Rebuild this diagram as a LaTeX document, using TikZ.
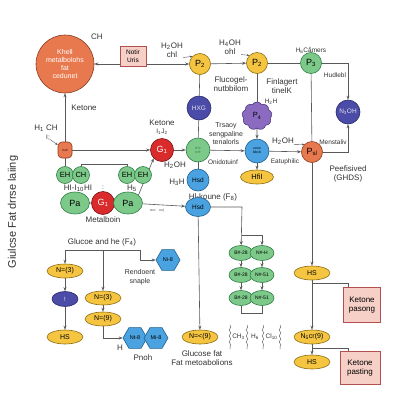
\documentclass[tikz,border=0pt]{standalone}
\usepackage{fontspec}
\setmainfont{Liberation Sans}
\usetikzlibrary{arrows.meta,shapes.geometric,shapes.symbols,decorations.pathmorphing}
\pgfdeclarelayer{back}
\pgfdeclarelayer{bg}
\pgfsetlayers{back,bg,main}
\definecolor{orc}{HTML}{E8794F}\definecolor{ord}{HTML}{8B3A1E}
\definecolor{yec}{HTML}{F5C542}\definecolor{yed}{HTML}{8A6D10}
\definecolor{grc}{HTML}{7CC98A}\definecolor{grd}{HTML}{2E7D45}
\definecolor{nac}{HTML}{4B4BA8}\definecolor{nad}{HTML}{2A2A70}
\definecolor{blc}{HTML}{4AA3E0}\definecolor{bld}{HTML}{1F5F90}
\definecolor{rec}{HTML}{D92B2B}\definecolor{red2}{HTML}{7A1010}
\definecolor{puc}{HTML}{8A6BC0}\definecolor{pud}{HTML}{4F3A80}
\definecolor{pkc}{HTML}{F6D0C6}\definecolor{pkd}{HTML}{B05050}
\tikzset{
 ln/.style={draw=black!65, line width=0.6pt},
 ar/.style={ln, -{Stealth[length=4pt,width=3pt]}},
 dar/.style={ln, {Stealth[length=4pt,width=3pt]}-{Stealth[length=4pt,width=3pt]}},
 sar/.style={draw=black!70, line width=0.4pt, -{Stealth[length=2.5pt,width=2pt]}},
 circ/.style={circle, line width=0.6pt, inner sep=0pt, align=center},
 yel/.style={circ, fill=yec, draw=yed, minimum size=21pt, font=\fontsize{9}{10}\selectfont},
 grn/.style={circ, fill=grc, draw=grd, minimum size=21pt, font=\fontsize{9}{10}\selectfont},
 orn/.style={circ, fill=orc, draw=ord, minimum size=21pt, font=\fontsize{9}{10}\selectfont},
 nav/.style={circ, fill=nac, draw=nad, minimum size=24pt, text=white!85!nac, font=\fontsize{6.5}{7}\selectfont},
 blu/.style={circ, fill=blc, draw=bld, minimum size=22pt, font=\fontsize{6.5}{7}\selectfont},
 rdc/.style={circ, fill=rec, draw=red2, minimum size=23pt, text=white, font=\fontsize{9}{10}\selectfont},
 gs/.style={circ, fill=grc, draw=grd, minimum size=17pt, font=\fontsize{7.5}{8}\selectfont},
 gpa/.style={ellipse, fill=grc, draw=grd, line width=0.6pt, inner sep=0pt, minimum width=29pt, minimum height=22pt, font=\fontsize{9}{10}\selectfont},
 gg/.style={ellipse, fill=grc, draw=grd, line width=0.6pt, inner sep=0pt, minimum width=24pt, minimum height=15pt, font=\fontsize{5}{5}\selectfont},
 yell/.style={ellipse, fill=yec, draw=yed, line width=0.6pt, inner sep=0pt, minimum width=36pt, minimum height=14pt, font=\fontsize{7}{8}\selectfont},
 hexa/.style={regular polygon, regular polygon sides=6, fill=blc, draw=bld, line width=0.6pt, inner sep=0pt, minimum size=24pt, font=\fontsize{5.5}{6}\selectfont},
 pbox/.style={rectangle, fill=pkc, draw=pkd, line width=0.6pt, align=center, inner sep=1pt},
 lab/.style={font=\fontsize{8}{9}\selectfont, text=black!80, align=center, inner sep=0pt},
 slab/.style={font=\fontsize{6.5}{7.5}\selectfont, text=black!80, align=center, inner sep=0pt},
 wav/.style={draw=black!60, line width=0.5pt, decorate, decoration={snake, amplitude=0.8pt, segment length=6pt}}
}
\begin{document}
\begin{tikzpicture}[x=1pt,y=-1pt]
\useasboundingbox (0,0) rectangle (400,400);
\begin{pgfonlayer}{back}
\fill[white] (0,0) rectangle (400,400);
\end{pgfonlayer}
% top row
\node[circ, fill=orc, draw=ord, minimum size=58pt, text=white, font=\fontsize{7}{8}\selectfont] (big) at (65,64) {Khell\\metalbolohs\\fat\\cedunet};
\node[lab] (ch) at (97,37) {CH};
\node[pbox, minimum width=26pt, minimum height=20pt, font=\fontsize{6.5}{7.5}\selectfont] (notir) at (133,56) {Notir\\Uris};
\node[yel] (p2a) at (200,64) {P\textsubscript{2}};
\node[lab] (h2oha) at (172,50) {H\textsubscript{2}OH\\chl};
\node[yel] (p2b) at (257,63) {P\textsubscript{2}};
\node[lab] (h4oh) at (230,47) {H\textsubscript{4}OH\\ohl};
\node[grn] (p3) at (311,63) {P\textsubscript{3}};
\node[slab] (camers) at (311,50) {H\textsubscript{6}Cåmers};
\node[nav] (n3oh) at (348,112) {N\textsubscript{3}OH};
\node[slab] (hud) at (335,75) {Hudlebl};
\node[orn] (psl) at (312,152) {P\textsubscript{sl}};
\node[slab] (menst) at (333,142) {Menstaliv};
\node[lab] (h2ohc) at (283,141) {H\textsubscript{2}OH};
\node[slab] (eatu) at (285,162) {Eatuphilic};
\node[lab] (peef) at (348,174) {Peefisived\\(GHDS)};
\node[yell] (hs1) at (312,273) {HS};
% purple column
\node[cloud, cloud puffs=9, cloud puff arc=120, fill=puc, draw=pud, line width=0.6pt, minimum width=30pt, minimum height=28pt, inner sep=0pt, font=\fontsize{7.5}{8}\selectfont] (p4) at (257,116) {P\textsubscript{4}};
\node[slab] (h2h) at (271,102) {H\textsubscript{2}H};
\node[blu, minimum size=24pt, font=\fontsize{3.5}{4}\selectfont] (bs) at (257,151) {sooo\\bbcb};
\node[yell, minimum width=33pt, font=\fontsize{7.5}{8}\selectfont] (hfi) at (257,177) {HfiI};
\node[lab] (fluc) at (231,84) {Flucogel-\\nutbbilom};
\node[lab] (finl) at (282,86) {Finlagert\\tinelK};
\node[lab, font=\fontsize{7}{8.5}\selectfont] (trs) at (226,134) {Trsaoy\\sengpaline\\tenalorls};
\node[slab] (onid) at (223,162) {Onidotuinf};
% middle column
\node[nav] (hxg) at (199,108) {HXG};
\node[grn, minimum size=24pt, text=grd, font=\fontsize{4}{4}\selectfont] (gc) at (198,150) {e\,o\\o\,e};
\node[rdc] (g1a) at (162,150) {G\textsubscript{1}};
\node[lab] (ket2) at (162,123) {Ketone};
\node[slab] (ij) at (162,132) {I\textsubscript{1}J\textsubscript{2}};
\node[blu] (hsd1) at (198,180) {Hsd};
\node[lab] (h2ohb) at (175,165) {H\textsubscript{2}OH};
\node[lab] (h3h) at (177,182) {H\textsubscript{3}H};
\node[lab] (hlk) at (213,197) {Hl-koune (F\textsubscript{8})};
\node[blu, ellipse, minimum width=25pt, minimum height=19pt] (hsd2) at (198,207) {Hsd};
% left part
\node[rectangle, rounded corners=4pt, fill=orc, draw=ord, line width=0.6pt, minimum width=14pt, minimum height=16pt, inner sep=0pt, font=\fontsize{3}{3}\selectfont] (so) at (65,150) {hotl};
\node[lab] (ket1) at (84,108) {Ketone};
\node[lab] (h1ch) at (46,128) {H\textsubscript{1} CH};
\node[slab] (isemi) at (48,138) {I;};
\node[gs] (eh1) at (65,175) {EH};
\node[gs] (ch1) at (81,175) {CH};
\node[gs] (eh2) at (127,175) {EH};
\node[gs] (eh3) at (143,175) {EH};
\node[gpa] (pa1) at (75,203) {Pa};
\node[rdc] (g1b) at (103,203) {G\textsubscript{1}};
\node[gpa] (pa2) at (128,203) {Pa};
\node[lab] (hih) at (78,188) {HI-I\textsubscript{10}HI};
\node[slab] (colon) at (103,188) {:};
\node[lab] (h5) at (132,188) {H\textsubscript{5}};
\node[lab] (metb) at (103,220) {Metalboin};
\node[font=\fontsize{3.5}{4}\selectfont, text=black!70] (ooo) at (157,211) {ooo\quad oo)};
\node[yell] (n9) at (200,337) {N=<(9)};
\node[lab] (gfat) at (202,358) {Glucose fat\\Fat metoabolions};
% green grid
\node[gg] (b1) at (241,253) {B\#-28};
\node[gg] (n1) at (262,253) {N\#-H};
\node[gg] (b2) at (241,275) {B\#-28};
\node[gg] (n2) at (262,275) {N\#-51};
\node[gg] (b3) at (241,298) {B\#-28};
\node[gg] (n3) at (262,298) {N\#-51};
% CH3 group
\node[slab] (ch3) at (238.5,337) {CH\textsubscript{3}};
\node[slab] (h6) at (255,337) {H\textsubscript{6}};
\node[slab] (cl10) at (271.5,337) {Cl\textsubscript{10}};
% right bottom
\node[pbox, minimum width=37pt, minimum height=35pt, font=\fontsize{8}{9.5}\selectfont] (kp) at (362,305) {Ketone\\pasong};
\node[yell] (n5cr) at (312,337) {N\textsubscript{5}cr(9)};
\node[yell] (hs2) at (312,362) {HS};
\node[pbox, minimum width=40pt, minimum height=33pt, font=\fontsize{8}{9.5}\selectfont] (kp2) at (360,368) {Ketone\\pasting};
% left bottom
\node[lab] (gluc) at (102,242) {Glucoe and he (F\textsubscript{4})};
\node[hexa] (hex1) at (168,260) {Ni-8};
\node[lab, font=\fontsize{7}{8.5}\selectfont] (rend) at (140,277) {Rendoent\\snaple};
\node[yell] (n3a) at (65,271) {N=(3)};
\node[ellipse, fill=nac, draw=nad, line width=0.6pt, minimum width=26pt, minimum height=15pt, inner sep=0pt, text=white, font=\fontsize{6}{7}\selectfont] (nav2) at (65,299) {!};
\node[yell] (hs3) at (65,337) {HS};
\node[yell] (n3b) at (103,298) {N=(3)};
\node[yell] (n9b) at (103,319) {N=(9)};
\node[hexa] (hex2) at (135,338) {Nt-8};
\node[hexa] (hex3) at (156,338) {Mi-8};
\node[lab] (hh) at (120,348) {H};
\node[lab] (pnoh) at (143,358) {Pnoh};
\node[rotate=90, font=\fontsize{11}{12}\selectfont, text=black!80] (side) at (13,212) {Giulcse Fat drrse laiing};
% coordinates
\coordinate (bk) at (100,164);
\coordinate (r1) at (242,207);
\coordinate (r2) at (242,235);
\coordinate (brb) at (250,313);
\coordinate (j1) at (312,283);
\coordinate (j2) at (312,348);
\coordinate (t1) at (65,250);
\coordinate (t2) at (140,250);
\coordinate (t3) at (103,250);
\coordinate (kx) at (348,0);
\begin{pgfonlayer}{bg}
\draw[dar] (big) -- (p2a);
\draw[sar] (h2oha.south east) -- (p2a.north west);
\draw[ar] (p2a) -- (p2b);
\draw[sar] (h4oh.south east) -- (p2b.north west);
\draw[ln] (p2b) -- (p3);
\draw[ar] (p3.east) -| (n3oh.north);
\draw[ln] (p3) -- (psl);
\draw[ar] (psl.east) -| (n3oh.south);
\draw[sar] (h2ohc.south east) -- (psl.north west);
\draw[ar] (psl) -- (hs1);
\draw[ln] (p2b) -- (p4);
\draw[ar] (p4) -- (bs);
\draw[ar] (bs) -- (hfi);
\draw[ar] (bs) -- (psl);
\draw[ln] (p2a) -- (hxg);
\draw[ln] (hxg) -- (gc);
\draw[ar] (gc) -- (bs);
\draw[ar] (g1a) -- (gc);
\draw[ln] (gc) -- (hsd1);
\draw[ar] (so) -- (big);
\draw[ar] (so) -- (g1a);
\draw[sar] (isemi) -- (so);
\draw[ln] (so) -- (eh1);
\draw[ln] (ch1.north) -- (ch1.north |- bk) -- (eh2.north |- bk) -- (eh2.north);
\draw[ar] (pa1) -- (g1b);
\draw[ar] (g1b) -- (pa2);
\draw[ar] (pa2.north east) -- (g1a.south west);
\draw[ar] (pa2) -- (hsd2);
\draw[ar] (hsd2) -- (n9);
\draw[ar] (hsd2) -- (r1) -- (b1);
\draw[ar] (r2) -| (n1);
\draw[ar] (b1) -- (b2); \draw[ar] (b2) -- (b3);
\draw[ar] (n1) -- (n2); \draw[ar] (n2) -- (n3);
\draw[ln] (b3.south) -- (b3.south |- brb) -- (n3.south |- brb) -- (n3.south);
\draw[ar] (hs1) -- (n5cr);
\draw[ln] (kp.north -| kx) |- (j1);
\draw[ar] (n5cr) -- (hs2);
\draw[ln] (j2) -| (kp2.north -| kx);
\draw[ln] (t1) -- (t3);
\draw[ar] (t3) -- (t2) |- (hex1);
\draw[ar] (t1) -- (n3a);
\draw[ar] (t3) -- (n3b);
\draw[ar] (n3a) -- (nav2);
\draw[ar] (nav2) -- (hs3);
\draw[ar] (n3b) -- (n9b);
\draw[ar] (n9b) |- (hex2);
\end{pgfonlayer}
\foreach \xx in {230,247,263,280} \draw[wav] (\xx,325) -- (\xx,349);
\end{tikzpicture}
\end{document}
